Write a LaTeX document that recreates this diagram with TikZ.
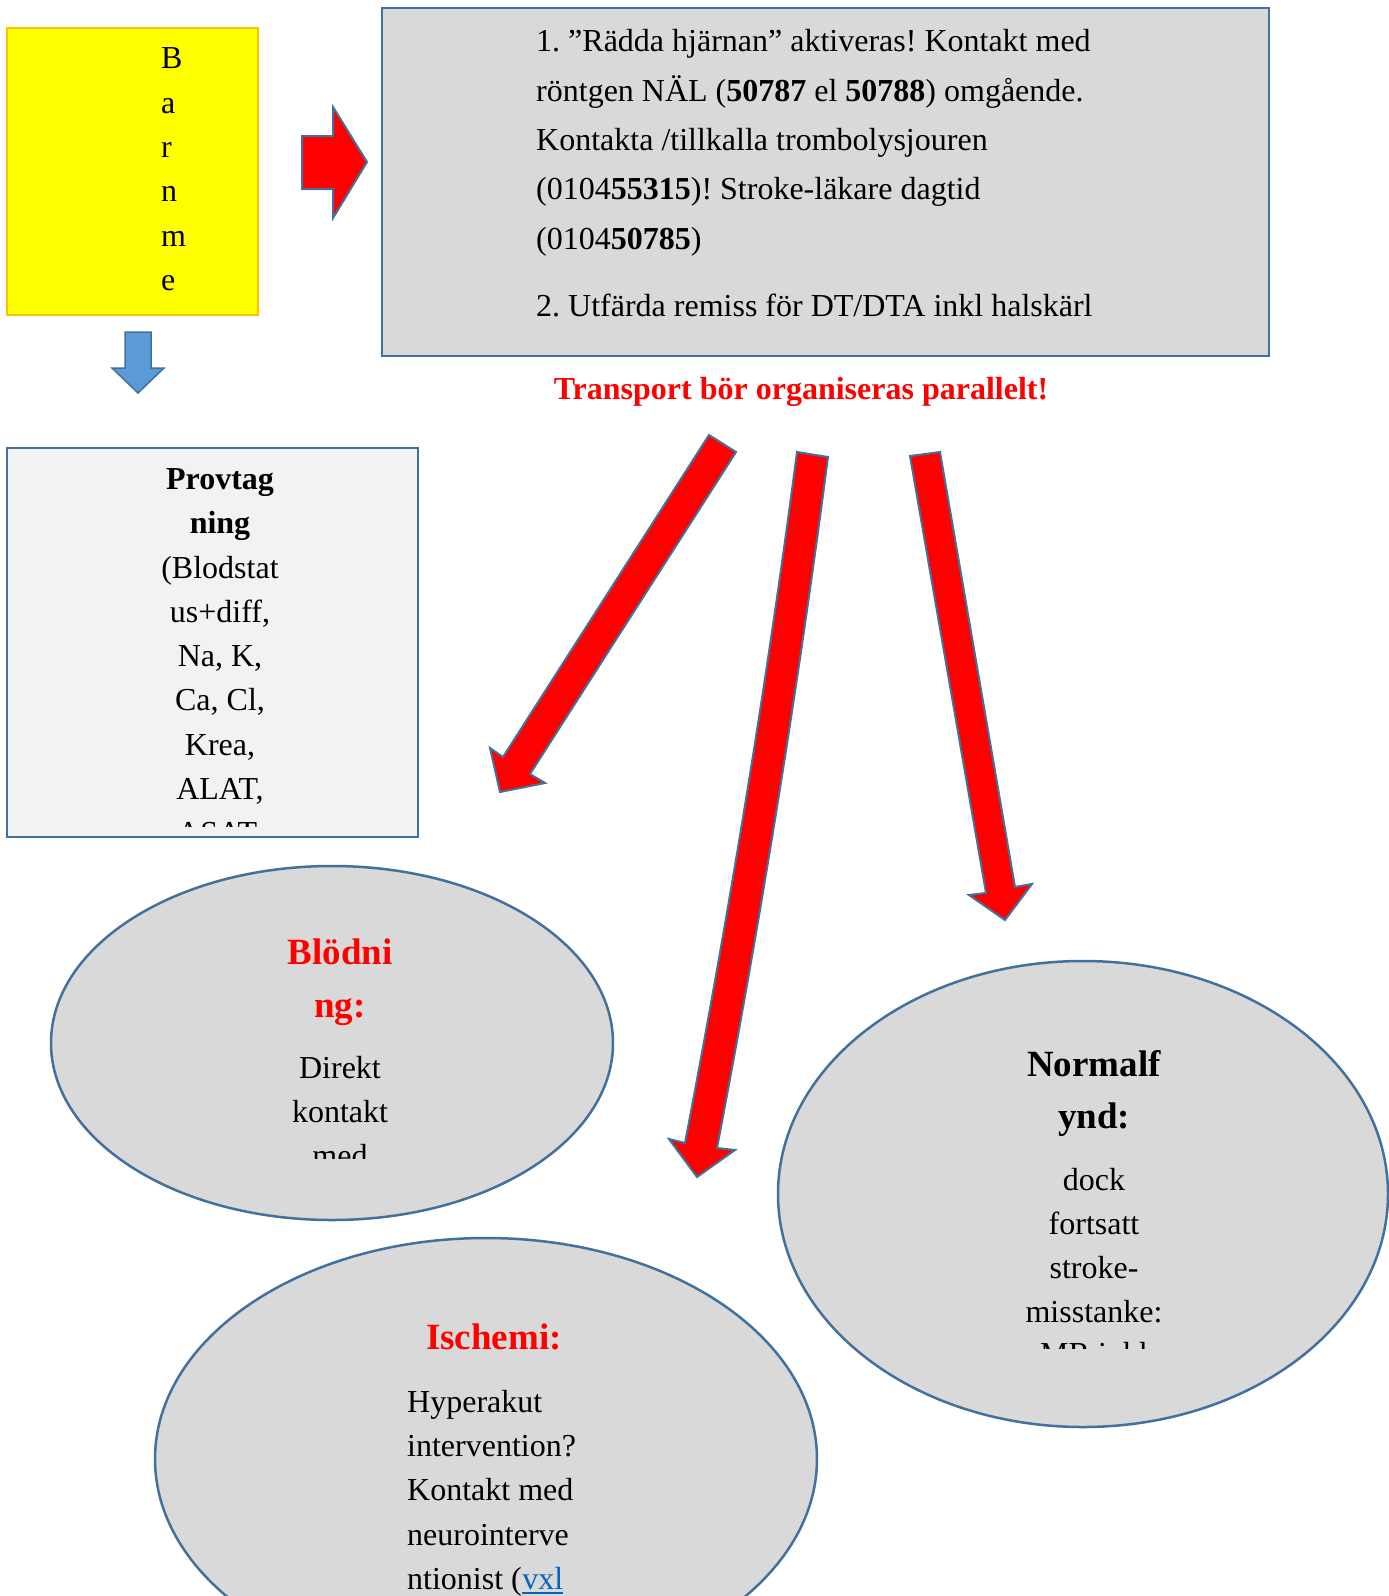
\documentclass[tikz,border=0pt]{standalone}
\usepackage{fontspec}
\setmainfont{Liberation Serif}
\frenchspacing
\definecolor{lineblue}{HTML}{41719C}
\definecolor{boxgray}{HTML}{D9D9D9}
\definecolor{lightgray}{HTML}{F2F2F2}
\definecolor{yelfill}{HTML}{FFFF00}
\definecolor{orangeline}{HTML}{FFC000}
\definecolor{arrowblue}{HTML}{5B9BD5}
\definecolor{wordred}{HTML}{FF0000}
\definecolor{linkblue}{HTML}{0563C1}
\begin{document}
\begin{tikzpicture}[x=1pt,y=-1pt,
  body/.style={font=\fontsize{32}{38}\selectfont, inner sep=0pt},
  bodyb/.style={font=\fontsize{32}{38}\selectfont\bfseries, inner sep=0pt},
  head/.style={font=\fontsize{37}{44}\selectfont\bfseries, inner sep=0pt},
  outl/.style={draw=lineblue, line width=2.5pt},
  redarrow/.style={fill=wordred, draw=lineblue, line width=2pt, line join=miter},
  bluearrow/.style={fill=arrowblue, draw=lineblue, line width=1.5pt, line join=miter}]
\clip (0,0) rectangle (1389,1596);
\fill[white] (0,0) rectangle (1389,1596);

% yellow box
\path[fill=yelfill, draw=orangeline, line width=2.5pt] (7,28) rectangle (258,315);
\foreach \ch/\yy [count=\i] in {B/68,a/113,r/157,n/201,m/246,e/290}
  \node[body, anchor=base west] (bl\i) at (161,\yy) {\ch};

% right red arrow
\path[redarrow] (302,136) -- (333,136) -- (333,107) -- (367,162) -- (333,218) -- (333,189) -- (302,189) -- cycle;
% blue down arrow
\path[bluearrow] (125,332) -- (151,332) -- (151,368) -- (164,368) -- (138,393) -- (112,368) -- (125,368) -- cycle;

% top gray box
\path[fill=boxgray, outl] (382,8) rectangle (1269,356);
\node[body, anchor=base west] (t1) at (536,51) {1. ”Rädda hjärnan” aktiveras! Kontakt med};
\node[body, anchor=base west] (t2) at (536,101) {röntgen NÄL (\textbf{50787} el \textbf{50788}) omgående.};
\node[body, anchor=base west] (t3) at (536,150) {Kontakta /tillkalla trombolysjouren};
\node[body, anchor=base west] (t4) at (536,199) {(0104\textbf{55315})! Stroke-läkare dagtid};
\node[body, anchor=base west] (t5) at (536,249) {(0104\textbf{50785})};
\node[body, anchor=base west] (t6) at (536,316) {2. Utfärda remiss för DT/DTA inkl halskärl};

\node[bodyb, text=wordred, anchor=base] (transp) at (801,399) {Transport bör organiseras parallelt!};

% Provtagning box
\path[fill=lightgray, outl] (7,448) rectangle (418,837);
\begin{scope}
\clip (10,450) rectangle (415,826);
\node[bodyb, anchor=base] (p1) at (220,489) {Provtag};
\node[bodyb, anchor=base] (p2) at (220,533) {ning};
\node[body, anchor=base] (p3) at (220,578) {(Blodstat};
\node[body, anchor=base] (p4) at (220,622) {us+diff,};
\node[body, anchor=base] (p5) at (220,666) {Na, K,};
\node[body, anchor=base] (p6) at (220,710) {Ca, Cl,};
\node[body, anchor=base] (p7) at (220,755) {Krea,};
\node[body, anchor=base] (p8) at (220,799) {ALAT,};
\node[body, anchor=base] (p9) at (220,843) {ASAT,};
\end{scope}

% red arrows
\path[redarrow] (709,435) -- (736,452) -- (530,774) -- (545,783) -- (500,792) -- (490,748) -- (503,757) -- cycle;
\path[redarrow] (797,452) -- (828,457) .. controls (798,687) and (761,918) .. (717,1148) -- (735,1150) -- (697,1177) -- (669,1139) -- (685,1143) .. controls (729,913) and (767,682) .. (797,452) -- cycle;
\path[redarrow] (910,456) -- (940,452) -- (1015,887) -- (1032,884) -- (1005,920) -- (969,895) -- (986,893) -- cycle;

% Blodning ellipse
\path[fill=boxgray, draw=lineblue, line width=2.5pt] (332,1043) ellipse [x radius=281, y radius=177];
\begin{scope}
\clip (150,900) rectangle (520,1158);
\node[head, text=wordred, anchor=base] (b1) at (340,964) {Blödni};
\node[head, text=wordred, anchor=base] (b2) at (340,1017) {ng:};
\node[body, anchor=base] (b3) at (340,1078) {Direkt};
\node[body, anchor=base] (b4) at (340,1122) {kontakt};
\node[body, anchor=base] (b5) at (340,1166) {med};
\end{scope}

% Normalfynd ellipse
\path[fill=boxgray, draw=lineblue, line width=2.5pt] (1083,1194) ellipse [x radius=305, y radius=233];
\begin{scope}
\clip (900,1000) rectangle (1290,1348);
\node[head, anchor=base] (n1) at (1094,1076) {Normalf};
\node[head, anchor=base] (n2) at (1094,1128) {ynd:};
\node[body, anchor=base] (n3) at (1094,1190) {dock};
\node[body, anchor=base] (n4) at (1094,1234) {fortsatt};
\node[body, anchor=base] (n5) at (1094,1278) {stroke-};
\node[body, anchor=base] (n6) at (1094,1322) {misstanke:};
\node[body, anchor=base] (n7) at (1094,1364) {MR inkl};
\end{scope}

% Ischemi ellipse
\path[fill=boxgray, draw=lineblue, line width=2.5pt] (486,1459) ellipse [x radius=331, y radius=221];
\node[head, text=wordred, anchor=base] (i0) at (494,1349) {Ischemi:};
\node[body, anchor=base west] (i1) at (407,1412) {Hyperakut};
\node[body, anchor=base west] (i2) at (407,1456) {intervention?};
\node[body, anchor=base west] (i3) at (407,1500) {Kontakt med};
\node[body, anchor=base west] (i4) at (407,1545) {neurointerve};
\node[body, anchor=base west] (i5) at (407,1589) {ntionist (};
\node[body, text=linkblue, anchor=base west] (vxl) at (i5.base east) {vxl};
\draw[linkblue, line width=2pt] ([yshift=-4pt]vxl.base west) -- ([yshift=-4pt]vxl.base east);
\end{tikzpicture}
\end{document}
